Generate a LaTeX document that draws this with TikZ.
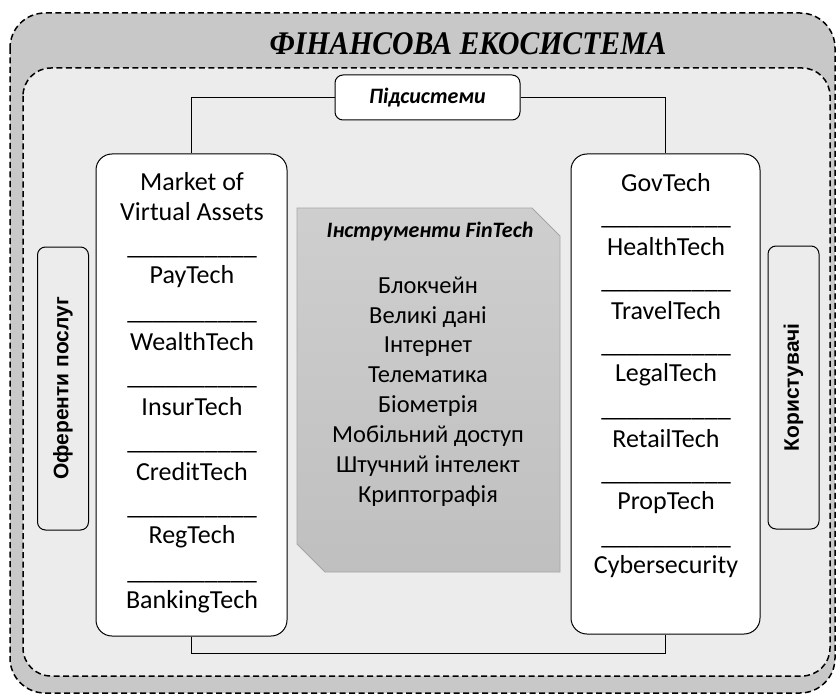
\documentclass[tikz,border=0pt]{standalone}
\usepackage{fontspec}
\setmainfont{Carlito}
\newfontfamily\titlefont{Liberation Serif}
\newfontfamily\sidefont{Liberation Sans}
\usetikzlibrary{positioning}
\definecolor{outergray}{HTML}{C8C8C8}
\definecolor{innergray}{HTML}{ECECEC}
\tikzset{
  frame/.style={draw=black, line width=1.5pt, dash pattern=on 6pt off 3.5pt},
  techbox/.style={draw, fill=white, rounded corners=16pt, line width=1pt},
  sidebox/.style={draw, fill=innergray, rounded corners=8pt, line width=1pt, rotate=90,
    minimum width=283pt, minimum height=51pt, font=\sidefont\bfseries\fontsize{21}{24}\selectfont},
  item/.style={inner sep=0pt, font=\fontsize{26}{30}\selectfont},
  sep/.style={inner sep=0pt, anchor=base, font=\fontsize{26}{30}\selectfont},
  head/.style={inner sep=0pt, font=\bfseries\itshape\fontsize{22}{26}\selectfont},
  link/.style={draw, line width=0.8pt},
}
\newcommand{\sepline}{\_\_\_\_\_\_\_\_\_\_}
\begin{document}
\begin{tikzpicture}[x=1pt,y=-1pt]
	\useasboundingbox (0,0) rectangle (837,695);
	% Frames
	\draw [frame, fill=outergray, rounded corners=35pt] (10,13) rectangle (835,693);
	\node [inner sep=0pt, xscale=0.9, font=\titlefont\bfseries\itshape\fontsize{33}{36}\selectfont] (title) at (468,44) {ФІНАНСОВА ЕКОСИСТЕМА};
	\draw [frame, fill=innergray, rounded corners=28pt] (23,68) rectangle (830,676);
	% Subsystems
	\node [draw, fill=white, rounded corners=8pt, line width=1pt, minimum width=185pt, minimum height=45pt, head] (pid) at (427.5,97.5) {Підсистеми};
	\node [techbox, minimum width=191pt, minimum height=482pt] (supply) at (191.5,395) {};
	\node [techbox, minimum width=189pt, minimum height=480pt] (demand) at (665.5,394) {};
	\draw [link] (pid.west) -| (supply.north);
	\draw [link] (pid.east) -| (demand.north);
	\draw [link] (supply.south) -- ++(0,17) -| (demand.south);
	% Left list
	\node [item, align=center] (mva) at (192,197) {Market of\\Virtual Assets};
	\foreach \txt [count=\i from 0] in {PayTech,WealthTech,InsurTech,CreditTech,RegTech,BankingTech} {
		\node [sep] at (192,254+65*\i) {\sepline};
		\node [item] (l\i) at (192,277+65*\i) {\txt};
	}
	% Right list
	\node [item] (gov) at (666,183) {GovTech};
	\foreach \txt [count=\i from 0] in {HealthTech,TravelTech,LegalTech,RetailTech,PropTech,Cybersecurity} {
		\node [sep] at (666,224+64*\i) {\sepline};
		\node [item] (r\i) at (666,247+64*\i) {\txt};
	}
	% Side boxes
	\node [sidebox] (offer) at (63,388.5) {Оференти послуг};
	\node [sidebox] (users) at (793.5,387.5) {Користувачі};
	% FinTech tools
	\path [draw=black!35, line width=0.8pt, top color=black!19, bottom color=black!25]
		(297,208) -- (532,208) -- (560,236) -- (560,572) -- (325,572) -- (297,544) -- cycle;
	\node [head] (tools) at (430,232) {Інструменти FinTech};
	\node [inner sep=0pt, align=center, font=\fontsize{24.5}{29.86}\selectfont] (toollist) at (428,391.5)
		{Блокчейн\\Великі дані\\Інтернет\\Телематика\\Біометрія\\Мобільний доступ\\Штучний інтелект\\Криптографія};
\end{tikzpicture}
\end{document}
